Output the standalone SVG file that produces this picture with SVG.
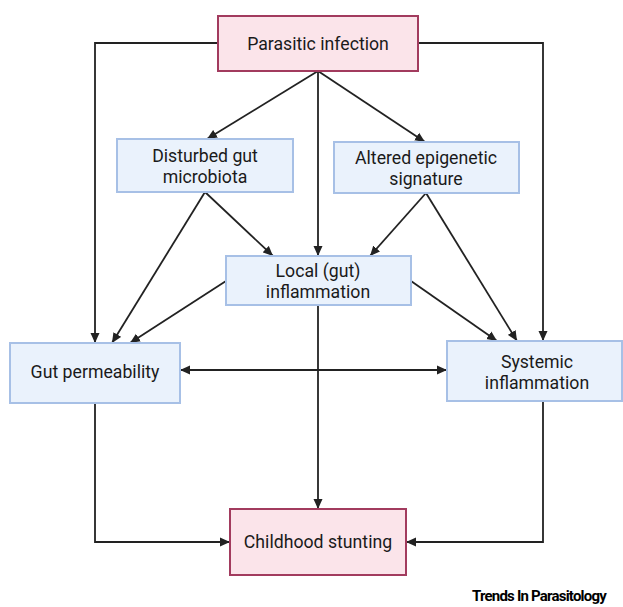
<svg xmlns="http://www.w3.org/2000/svg" width="623" height="607" viewBox="0 0 623 607">
<style>
.pink{fill:#fbe4ea;stroke:#a23b5e;stroke-width:2}
.blue{fill:#eaf2fc;stroke:#a7c0e6;stroke-width:2}
.t{font-family:Roboto,"Liberation Sans",sans-serif;font-size:17.7px;fill:#1a1a1a;text-anchor:middle}
.c{fill:none;stroke:#222;stroke-width:1.8}
</style>
<defs>
<marker id="ah" viewBox="0 0 10 10" refX="10" refY="5" markerWidth="10" markerHeight="10" markerUnits="userSpaceOnUse" orient="auto-start-reverse">
<path d="M0,0.5 L10,5 L0,9.5 Z" fill="#222"/>
</marker>
</defs>
<rect width="623" height="607" fill="#fff"/>
<g id="connectors">
<path class="c" d="M218,43 H95 V343" marker-end="url(#ah)"/>
<path class="c" d="M418,43 H543 V341" marker-end="url(#ah)"/>
<path class="c" d="M318,71 V256" marker-end="url(#ah)"/>
<path class="c" d="M318,71 L207,139" marker-end="url(#ah)"/>
<path class="c" d="M318,71 L425,142" marker-end="url(#ah)"/>
<path class="c" d="M205,192 L273,256" marker-end="url(#ah)"/>
<path class="c" d="M205,192 L112,343" marker-end="url(#ah)"/>
<path class="c" d="M426,193 L370,256" marker-end="url(#ah)"/>
<path class="c" d="M426,193 L517,341" marker-end="url(#ah)"/>
<path class="c" d="M226,281 L130,343" marker-end="url(#ah)"/>
<path class="c" d="M411,281 L497,341" marker-end="url(#ah)"/>
<path class="c" d="M318,305 V509" marker-end="url(#ah)"/>
<path class="c" d="M180,370 H447" marker-start="url(#ah)" marker-end="url(#ah)"/>
<path class="c" d="M95,403 V542 H230" marker-end="url(#ah)"/>
<path class="c" d="M543,401 V542 H406" marker-end="url(#ah)"/>
</g>
<g id="parasitic-infection">
<rect class="pink" x="218" y="16" width="200" height="55"/>
<text class="t" x="318" y="49.5">Parasitic infection</text>
</g>
<g id="disturbed-gut-microbiota">
<rect class="blue" x="117" y="139" width="176" height="53"/>
<text class="t" x="205" y="162">Disturbed gut</text>
<text class="t" x="205" y="183">microbiota</text>
</g>
<g id="altered-epigenetic-signature">
<rect class="blue" x="334" y="142" width="185" height="51"/>
<text class="t" x="426" y="164">Altered epigenetic</text>
<text class="t" x="426" y="185">signature</text>
</g>
<g id="local-gut-inflammation">
<rect class="blue" x="226" y="256" width="185" height="49"/>
<text class="t" x="318" y="277">Local (gut)</text>
<text class="t" x="318" y="298">inflammation</text>
</g>
<g id="gut-permeability">
<rect class="blue" x="10" y="343" width="170" height="60"/>
<text class="t" x="95" y="378">Gut permeability</text>
</g>
<g id="systemic-inflammation">
<rect class="blue" x="447" y="341" width="175" height="60"/>
<text class="t" x="537" y="368">Systemic</text>
<text class="t" x="537" y="389">inflammation</text>
</g>
<g id="childhood-stunting">
<rect class="pink" x="230" y="509" width="176" height="66"/>
<text class="t" x="318" y="548">Childhood stunting</text>
</g>
<text x="472" y="601" font-family="Roboto,'Liberation Sans',sans-serif" font-size="15" font-weight="bold" letter-spacing="-0.8" fill="#000">Trends In Parasitology</text>
</svg>
